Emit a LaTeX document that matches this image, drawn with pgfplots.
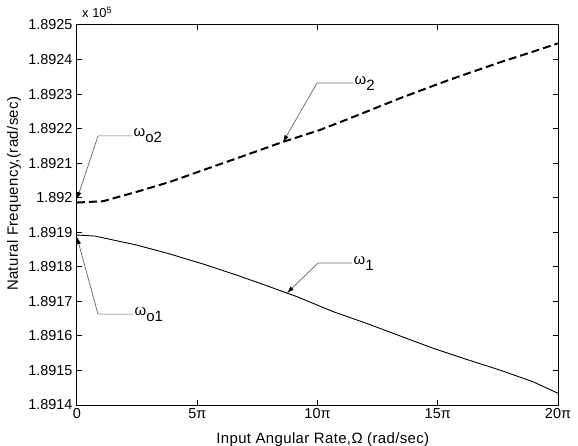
\documentclass[border=0pt]{standalone}
\usepackage{pgfplots}
\pgfplotsset{compat=1.18}
\usepackage{fontspec}
\setmainfont{Liberation Sans}
\newfontfamily\labfont{Liberation Sans}[LetterSpace=2.5]
\usetikzlibrary{arrows.meta}
% exact string-based shift of the y values (all values are 1.89xxxx)
\def\stripsci 1.89#1e0\relax{\takefour#10000\relax}
\def\takefour#1#2#3#4#5\relax{\def\pgfmathresult{#1#2.#3#4}}
\begin{document}
\begin{tikzpicture}
\begin{axis}[
  name=ax,
  scale only axis, width=481bp, height=380bp,
  xmin=0, xmax=62.832,
  ymin=1.891400, ymax=1.892500,
  y coord trafo/.code={\pgfmathfloatparsenumber{#1}\pgfmathfloattosci{\pgfmathresult}\expandafter\stripsci\pgfmathresult\relax},
  clip=false,
  xtick={0,15.708,31.416,47.124,62.832},
  xticklabels={0,5π,10π,15π,20π},
  ytick={1.891400,1.891500,1.891600,1.891700,1.891800,1.891900,1.892000,1.892100,1.892200,1.892300,1.892400,1.892500},
  yticklabels={1.8914,1.8915,1.8916,1.8917,1.8918,1.8919,1.892,1.8921,1.8922,1.8923,1.8924,1.8925},
  tick align=inside, major tick length=5bp,
  axis line style={line width=1bp},
  every tick/.style={line width=1bp, black},
  tick label style={font=\fontsize{14.5}{16}\selectfont},
  yticklabel style={xshift=-1bp},
  label style={font=\labfont\fontsize{15}{17}\selectfont},
  xlabel={Input Angular Rate,Ω (rad/sec)},
  ylabel={Natural Frequency,(rad/sec)},
  xlabel style={at={(axis description cs:0.511,-0.09)}, anchor=center},
  ylabel style={at={(axis description cs:-0.131,0.556)}, anchor=center, rotate=0},
]
\addplot[black, line width=0.9bp] coordinates {
(0,1.891892) (2.356,1.891889) (7.791,1.891863) (12.158,1.891837)
(16.493,1.891808) (20.860,1.891776) (25.196,1.891742) (28.683,1.891714)
(33.489,1.891670) (37.856,1.891636) (42.192,1.891600) (46.558,1.891564)
(50.894,1.891532) (55.261,1.891501) (59.596,1.891467) (62.832,1.891434)
};
\addplot[black, line width=2bp, dash pattern=on 8bp off 4bp] coordinates {
(0,1.891986) (3.424,1.891990) (7.791,1.892017) (12.158,1.892046)
(16.493,1.892080) (20.860,1.892114) (26.955,1.892162) (31.730,1.892196)
(35.657,1.892230) (42.192,1.892288) (48.727,1.892342) (55.261,1.892392)
(59.596,1.892423) (62.832,1.892447)
};
\tikzset{ann/.style={draw=black!60, line width=0.7bp, -{Latex[black,length=7bp,width=4.5bp]}},
  lab/.style={anchor=west, inner sep=1.5bp, font=\fontsize{15}{17}\selectfont}}
\draw[ann] (axis cs:7.185,1.892179) -- (axis cs:2.743,1.892179) -- (axis cs:0,1.891996);
\node[lab] at (axis cs:7.185,1.892179) {ω\raisebox{-0.75ex}{o2}};
\draw[ann] (axis cs:7.315,1.891663) -- (axis cs:2.743,1.891663) -- (axis cs:0,1.891886);
\node[lab] at (axis cs:7.315,1.891663) {ω\raisebox{-0.75ex}{o1}};
\draw[ann] (axis cs:36.05,1.892332) -- (axis cs:31.35,1.892332) -- (axis cs:26.91,1.892161);
\node[lab] at (axis cs:36.05,1.892332) {ω\raisebox{-0.75ex}{2}};
\draw[ann] (axis cs:35.92,1.891811) -- (axis cs:31.48,1.891811) -- (axis cs:27.43,1.891724);
\node[lab] at (axis cs:35.92,1.891811) {ω\raisebox{-0.75ex}{1}};
\node[anchor=base west, inner sep=0pt, font=\fontsize{13}{15}\selectfont]
  at ([xshift=5bp,yshift=7bp]rel axis cs:0,1) {x 10\textsuperscript{5}};
\end{axis}
\pgfresetboundingbox
\path[use as bounding box] ([xshift=-77bp,yshift=-41bp]ax.south west) rectangle ([xshift=20bp,yshift=25bp]ax.north east);
\end{tikzpicture}
\end{document}
